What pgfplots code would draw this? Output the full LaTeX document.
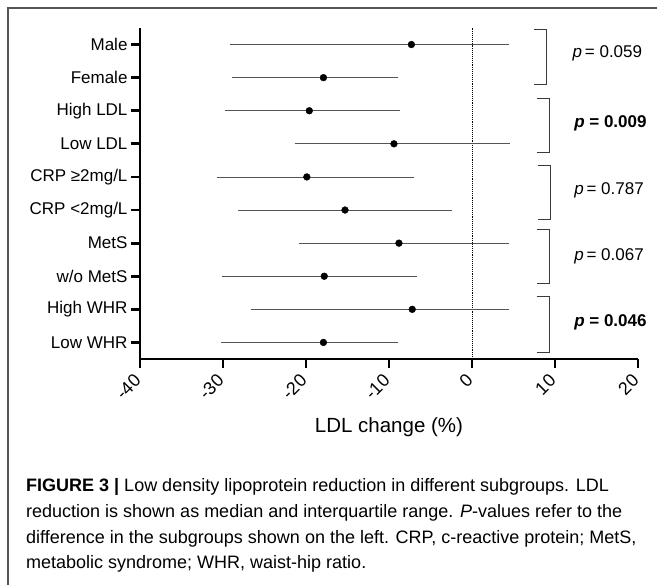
\documentclass[border=0pt]{standalone}
\usepackage{fontspec}
\setmainfont{Liberation Sans}
\usepackage{pgfplots}
\usepackage{pgfplotstable}
\pgfplotsset{compat=1.18}

\definecolor{errgray}{HTML}{555555}
\definecolor{brgray}{HTML}{3A3A3A}
\definecolor{boxgray}{HTML}{555555}

% median, lower and upper quartile of LDL change (%)
\pgfplotstableread{
y  med    lo     hi
10 -7.3  -28.8   4.1
9  -17.9 -28.6  -9.3
8  -19.6 -29.4  -9.0
7  -9.4  -21.0   4.2
6  -19.9 -30.4  -7.4
5  -15.3 -27.8  -2.8
4  -8.8  -20.5   4.1
3  -17.8 -29.8  -7.0
2  -7.2  -26.3   4.1
1  -17.9 -29.9  -9.3
}\ldltable

\begin{document}
\begin{tikzpicture}
\path[use as bounding box] (0,0) rectangle (657pt,585pt);
\draw[boxgray, line width=1.2pt] (8pt,-5pt) -- (8pt,577pt) -- (670pt,577pt);

\begin{axis}[
    at={(140pt,226pt)}, anchor=south west,
    scale only axis, width=498pt, height=331pt,
    xmin=-40, xmax=20, ymin=0.5, ymax=10.5,
    axis x line*=bottom, axis y line*=left,
    axis line style={-, line width=2.8pt, black},
    xtick={-40,-30,...,20},
    xticklabels={-40,-30,-20,-10,0,10,20},
    ytick={1,...,10},
    yticklabels={Low WHR,High WHR,w/o MetS,MetS,CRP <2mg/L,CRP ≥2mg/L,Low LDL,High LDL,Female,Male},
    tick align=outside, major tick length=9pt,
    tick style={line width=2.8pt, black},
    xticklabel shift=7pt,
    x tick label style={rotate=45, anchor=east, font=\fontsize{18}{18}\selectfont},
    y tick label style={font=\fontsize{17}{17}\selectfont},
    xlabel={LDL change (\%)},
    xlabel style={at={(axis description cs:0.5,0)}, anchor=base, yshift=-74pt,
                  font=\fontsize{20.5}{21}\selectfont},
    clip=false,
]
\addplot[black, densely dotted, line width=0.9pt] coordinates {(0,0.5) (0,10.5)};

\addplot[only marks, mark=*, mark size=3.4pt, black,
    error bars/.cd, x dir=both, x explicit,
    error bar style={line width=0.8pt, color=errgray},
    error mark options={line width=0.8pt, color=errgray, mark size=3pt}]
    table[x=med, y=y,
          x error plus expr=\thisrow{hi}-\thisrow{med},
          x error minus expr=\thisrow{med}-\thisrow{lo}] {\ldltable};

% brackets for the compared pairs
\draw[brgray, line width=1pt] (axis cs:7.5,10.44) -- (axis cs:9.0,10.44) -- (axis cs:9.0,8.80) -- (axis cs:7.5,8.80);
\draw[brgray, line width=1pt] (axis cs:7.8,8.36) -- (axis cs:9.3,8.36) -- (axis cs:9.3,6.73) -- (axis cs:7.8,6.73);
\draw[brgray, line width=1pt] (axis cs:7.9,6.36) -- (axis cs:9.4,6.36) -- (axis cs:9.4,4.70) -- (axis cs:7.9,4.70);
\draw[brgray, line width=1pt] (axis cs:7.8,4.42) -- (axis cs:9.3,4.42) -- (axis cs:9.3,2.77) -- (axis cs:7.8,2.77);
\draw[brgray, line width=1pt] (axis cs:7.8,2.38) -- (axis cs:9.3,2.38) -- (axis cs:9.3,0.70) -- (axis cs:7.8,0.70);

\node[anchor=west, font=\fontsize{17}{17}\selectfont] at (axis cs:11.7,9.74) {{\itshape p}\,= 0.059};
\node[anchor=west, font=\fontsize{17}{17}\selectfont\bfseries] at (axis cs:11.9,7.63) {{\itshape p} = 0.009};
\node[anchor=west, font=\fontsize{17}{17}\selectfont] at (axis cs:11.9,5.60) {{\itshape p}\,= 0.787};
\node[anchor=west, font=\fontsize{17}{17}\selectfont] at (axis cs:11.9,3.61) {{\itshape p}\,= 0.067};
\node[anchor=west, font=\fontsize{17}{17}\selectfont\bfseries] at (axis cs:11.9,1.62) {{\itshape p} = 0.046};
\end{axis}

\node[anchor=base west, align=left, font=\fontsize{18}{25.7}\selectfont, inner sep=0pt]
  at (26pt,16pt) {\textbf{FIGURE 3 |} Low density lipoprotein reduction in different subgroups. LDL\\
  reduction is shown as median and interquartile range. \textit{P}-values refer to the\\
  difference in the subgroups shown on the left. CRP, c-reactive protein; MetS,\\
  metabolic syndrome; WHR, waist-hip ratio.};
\end{tikzpicture}
\end{document}
